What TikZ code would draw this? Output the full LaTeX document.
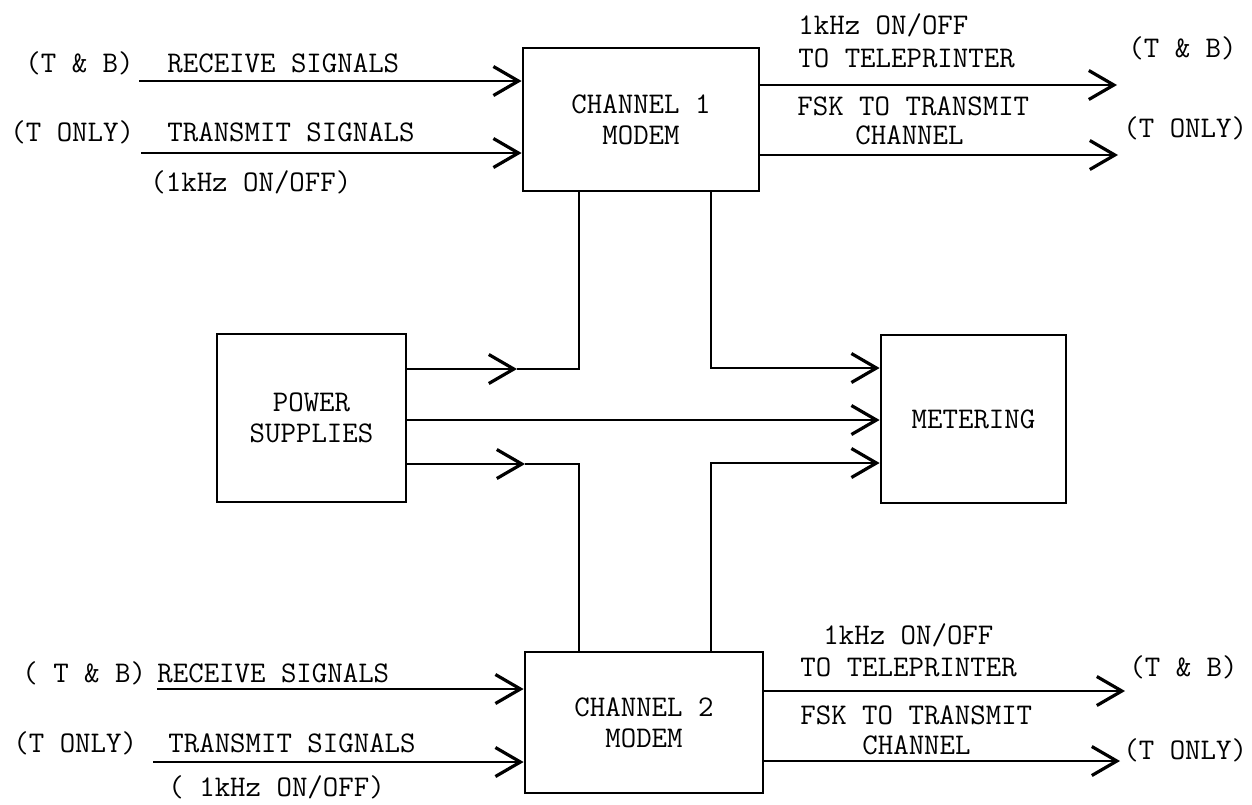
\documentclass[tikz,border=0pt]{standalone}
\usepackage{fontspec}
\usetikzlibrary{arrows.meta}
\newcommand\twfont{\fontsize{15}{15.5}\selectfont\ttfamily}
\tikzset{
  conn/.style={line width=1.4pt, line join=miter},
  arr/.style={conn, -{Straight Barb[length=12.5pt,width=14.5pt,line width=1.6pt]}},
  blk/.style={draw, line width=1.4pt, rectangle, inner sep=0pt, align=center, font=\twfont},
  lbl/.style={inner sep=0pt, anchor=base west, font=\twfont},
}
\begin{document}
\begin{tikzpicture}[x=0.5pt,y=-0.5pt]
\useasboundingbox (0,0) rectangle (1252,804);
% blocks
\node[blk, minimum width=118pt, minimum height=71.5pt] (ch1) at (641,119.5) {CHANNEL 1\\MODEM};
\node[blk, minimum width=119pt, minimum height=70.5pt] (ch2) at (644,722.5) {CHANNEL 2\\MODEM};
\node[blk, minimum width=94.5pt, minimum height=84pt] (ps) at (311.5,418) {POWER\\SUPPLIES};
\node[blk, minimum width=92.5pt, minimum height=84pt] (met) at (973.5,419) {METERING};

% channel 1 inputs
\node[lbl] (l1a) at (25,72) {(T \& B)};
\node[lbl] (l1b) at (167,72) {RECEIVE SIGNALS};
\node[lbl] (l1c) at (10,141) {(T ONLY)};
\node[lbl] (l1d) at (167,141) {TRANSMIT SIGNALS};
\node[lbl] (l1e) at (150,191) {(1kHz ON/OFF)};
\coordinate (i1a) at (139,81);
\coordinate (i1b) at (141,153);
\draw[arr] (i1a) -- (i1a -| ch1.west);
\draw[arr] (i1b) -- (i1b -| ch1.west);

% channel 1 outputs
\node[lbl] (r1a) at (798,34) {1kHz ON/OFF};
\node[lbl] (r1b) at (798,67) {TO TELEPRINTER};
\node[lbl] (r1c) at (1128,57) {(T \& B)};
\node[lbl] (r1d) at (797,115) {FSK TO TRANSMIT};
\node[lbl] (r1e) at (855,144) {CHANNEL};
\node[lbl] (r1f) at (1123,137) {(T ONLY)};
\coordinate (o1a) at (1117,85);
\coordinate (o1b) at (1118,155);
\draw[arr] (ch1.east |- o1a) -- (o1a);
\draw[arr] (ch1.east |- o1b) -- (o1b);

% channel 2 inputs
\node[lbl] (l2a) at (22,682) {( T \& B)};
\node[lbl] (l2b) at (157,682) {RECEIVE SIGNALS};
\node[lbl] (l2c) at (13,752) {(T ONLY)};
\node[lbl] (l2d) at (168,752) {TRANSMIT SIGNALS};
\node[lbl] (l2e) at (168,796) {( 1kHz ON/OFF)};
\coordinate (i2a) at (157,689);
\coordinate (i2b) at (153,762);
\draw[arr] (i2a) -- (i2a -| ch2.west);
\draw[arr] (i2b) -- (i2b -| ch2.west);

% channel 2 outputs
\node[lbl] (r2a) at (823,644) {1kHz ON/OFF};
\node[lbl] (r2b) at (800,676) {TO TELEPRINTER};
\node[lbl] (r2c) at (1129,676) {(T \& B)};
\node[lbl] (r2d) at (800,724) {FSK TO TRANSMIT};
\node[lbl] (r2e) at (862,754) {CHANNEL};
\node[lbl] (r2f) at (1123,759) {(T ONLY)};
\coordinate (o2a) at (1125,691);
\coordinate (o2b) at (1120,761);
\draw[arr] (ch2.east |- o2a) -- (o2a);
\draw[arr] (ch2.east |- o2b) -- (o2b);

% power distribution and metering
\coordinate (v1) at (579,0);
\coordinate (v2) at (711,0);
\coordinate (j1) at (517,369);
\coordinate (j2) at (0,420);
\coordinate (j3) at (525,464);
\coordinate (m1) at (0,368);
\coordinate (m3) at (0,463);
\draw[arr] (ps.east |- j1) -- (j1);
\draw[conn] (j1) -- (v1 |- j1) -- (v1 |- ch1.south);
\draw[arr] (ps.east |- j3) -- (j3);
\draw[conn] (j3) -- (v1 |- j3) -- (v1 |- ch2.north);
\draw[arr] (ps.east |- j2) -- (met.west |- j2);
\draw[arr] (v2 |- ch1.south) -- (v2 |- m1) -- (met.west |- m1);
\draw[arr] (v2 |- ch2.north) -- (v2 |- m3) -- (met.west |- m3);
\end{tikzpicture}
\end{document}
